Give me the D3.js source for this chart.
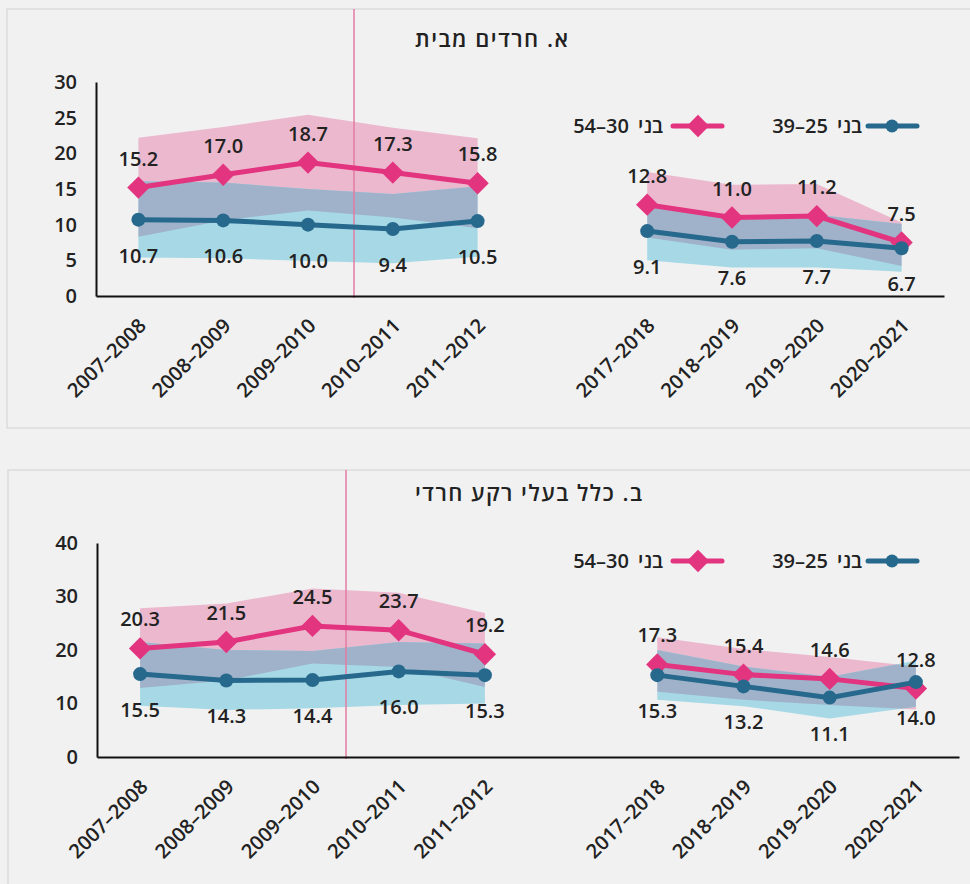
<!DOCTYPE html>
<html>
<head>
<meta charset="utf-8">
<script src="https://cdnjs.cloudflare.com/ajax/libs/d3/7.8.5/d3.min.js"></script>
<style>
  body { margin: 0; background: #f1f1f1; }
  svg { display: block; }
</style>
</head>
<body>
<svg width="970" height="884"></svg>
<script>
// categories (empty slot = gap between the two periods)
var categories = ["2007–2008", "2008–2009", "2009–2010", "2010–2011", "2011–2012", "",
  "2017–2018", "2018–2019", "2019–2020", "2020–2021"];

// panel A: haredim from home
var haredimOlder = [15.2, 17.0, 18.7, 17.3, 15.8, null, 12.8, 11.0, 11.2, 7.5];
var haredimOlderLow = [8.3, 10.6, 12.0, 11.0, 9.5, null, 8.2, 6.5, 6.7, 4.2];
var haredimOlderHigh = [22.2, 23.7, 25.4, 23.6, 22.1, null, 17.4, 15.6, 15.7, 10.3];
var haredimYoung = [10.7, 10.6, 10.0, 9.4, 10.5, null, 9.1, 7.6, 7.7, 6.7];
var haredimYoungLow = [5.4, 5.3, 4.9, 4.6, 5.5, null, 5.0, 4.0, 4.0, 3.4];
var haredimYoungHigh = [16.1, 15.9, 15.0, 14.3, 15.4, null, 12.4, 11.2, 11.4, 10.1];

// panel B: all with haredi background
var allOlder = [20.3, 21.5, 24.5, 23.7, 19.2, null, 17.3, 15.4, 14.6, 12.8];
var allOlderLow = [12.9, 14.3, 17.5, 16.8, 13.1, null, 12.2, 10.7, 9.7, 8.9];
var allOlderHigh = [27.8, 28.7, 31.5, 30.7, 26.9, null, 22.4, 20.2, 18.7, 16.9];
var allYoung = [15.5, 14.3, 14.4, 16.0, 15.3, null, 15.3, 13.2, 11.1, 14.0];
var allYoungLow = [9.6, 8.8, 9.1, 9.7, 10.0, null, 10.7, 9.5, 7.2, 9.4];
var allYoungHigh = [21.5, 20.0, 19.8, 21.5, 21.2, null, 20.0, 16.9, 15.0, 18.0];

var seriesNames = ["בני 25–39", "בני 30–54"];
var titles = ["א. חרדים מבית", "ב. כלל בעלי רקע חרדי"];
var yTicksA = [0, 5, 10, 15, 20, 25, 30];
var yTicksB = [0, 10, 20, 30, 40];

var PINK = "#e2347f", BLUE = "#27698d";
var PINK_BAND = "#ecb8ce", BLUE_BAND = "#a6d9e5", MIX_BAND = "#a0b2ca";
var TEXT = "#222";
var NUM_FONT = "'Open Sans', 'Noto Sans', sans-serif";
var HEB_FONT = "'Open Sans', 'Liberation Sans', 'DejaVu Sans', sans-serif";

var svg = d3.select("svg");

var panels = [
  { id: "a", title: titles[0], ticks: yTicksA, x0: 96, x1: 944, yTop: 82, yBottom: 296,
    frameX: 7, frameY: 9, frameH: 419, titleY: 47, legendY: 126, divShift: 3.6,
    older: haredimOlder, olderLow: haredimOlderLow, olderHigh: haredimOlderHigh,
    young: haredimYoung, youngLow: haredimYoungLow, youngHigh: haredimYoungHigh },
  { id: "b", title: titles[1], ticks: yTicksB, x0: 97, x1: 959, yTop: 543, yBottom: 757,
    frameX: 8, frameY: 470, frameH: 500, titleY: 501, legendY: 561, divShift: -9.6,
    older: allOlder, olderLow: allOlderLow, olderHigh: allOlderHigh,
    young: allYoung, youngLow: allYoungLow, youngHigh: allYoungHigh }
];

panels.forEach(drawPanel);

function drawPanel(p) {
  var g = svg.append("g");

  g.append("rect")
    .attr("x", p.frameX).attr("y", p.frameY)
    .attr("width", 1000).attr("height", p.frameH)
    .attr("fill", "none").attr("stroke", "#dcdcdc").attr("stroke-width", 1.5);

  var x = d3.scaleBand().domain(categories).range([p.x0, p.x1]);
  var y = d3.scaleLinear().domain([0, d3.max(p.ticks)]).range([p.yBottom, p.yTop]);
  var cx = function (d) { return x(categories[d.i]) + x.bandwidth() / 2; };

  var rows = categories.map(function (c, i) {
    return { i: i, o: p.older[i], oLo: p.olderLow[i], oHi: p.olderHigh[i],
      yv: p.young[i], yLo: p.youngLow[i], yHi: p.youngHigh[i] };
  });
  var pts = rows.filter(function (d) { return d.o != null; });

  var pinkArea = d3.area().defined(function (d) { return d.o != null; })
    .x(cx).y0(function (d) { return y(d.oLo); }).y1(function (d) { return y(d.oHi); });
  var blueArea = d3.area().defined(function (d) { return d.yv != null; })
    .x(cx).y0(function (d) { return y(d.yLo); }).y1(function (d) { return y(d.yHi); });

  g.append("clipPath").attr("id", "clip-" + p.id)
    .append("path").attr("d", pinkArea(rows));

  g.append("path").attr("d", pinkArea(rows)).attr("fill", PINK_BAND);
  g.append("path").attr("d", blueArea(rows)).attr("fill", BLUE_BAND);
  g.append("path").attr("d", blueArea(rows)).attr("fill", MIX_BAND)
    .attr("clip-path", "url(#clip-" + p.id + ")");

  // divider
  var dx = x(categories[3]) + p.divShift;
  g.append("line")
    .attr("x1", dx).attr("x2", dx).attr("y1", p.frameY).attr("y2", p.yBottom + 2)
    .attr("stroke", "#e47ba3").attr("stroke-width", 1.5);

  // axes
  var yAxis = g.append("g").attr("transform", "translate(" + p.x0 + ",0)")
    .call(d3.axisLeft(y).tickValues(p.ticks).tickSize(0).tickPadding(19));
  var xAxis = g.append("g").attr("transform", "translate(0," + p.yBottom + ")")
    .call(d3.axisBottom(x).tickSize(0));
  [yAxis, xAxis].forEach(function (a) {
    a.select(".domain").attr("stroke", "#111").attr("stroke-width", 2);
    a.selectAll("text").attr("fill", TEXT)
      .style("font-family", NUM_FONT).style("font-size", "20px").style("font-weight", 600);
  });
  xAxis.selectAll("text")
    .attr("x", 0).attr("y", 0).attr("dy", 0)
    .attr("transform", "translate(9,31) rotate(-45)")
    .style("text-anchor", "end");

  // lines
  var line = function (key) {
    return d3.line().defined(function (d) { return d[key] != null; })
      .x(cx).y(function (d) { return y(d[key]); });
  };
  g.append("path").attr("d", line("o")(rows))
    .attr("fill", "none").attr("stroke", PINK).attr("stroke-width", 5);
  g.selectAll(".dia").data(pts).enter().append("path")
    .attr("d", d3.symbol(d3.symbolSquare, 250)())
    .attr("transform", function (d) { return "translate(" + cx(d) + "," + y(d.o) + ") rotate(45)"; })
    .attr("fill", PINK);

  g.append("path").attr("d", line("yv")(rows))
    .attr("fill", "none").attr("stroke", BLUE).attr("stroke-width", 5);
  g.selectAll(".dot").data(pts).enter().append("circle")
    .attr("cx", cx).attr("cy", function (d) { return y(d.yv); })
    .attr("r", 7).attr("fill", BLUE);

  // value labels
  var labels = g.append("g").style("font-family", NUM_FONT).style("font-size", "20px")
    .style("font-weight", 600).attr("fill", TEXT).attr("text-anchor", "middle");
  labels.selectAll(".lo").data(pts).enter().append("text")
    .attr("x", cx).attr("y", function (d) { return y(d.o) - 22; })
    .text(function (d) { return d.o.toFixed(1); });
  labels.selectAll(".ly").data(pts).enter().append("text")
    .attr("x", cx).attr("y", function (d) { return y(d.yv) + 43; })
    .text(function (d) { return d.yv.toFixed(1); });

  // title
  g.append("text")
    .attr("x", 415).attr("y", p.titleY)
    .attr("direction", "rtl").attr("text-anchor", "end")
    .style("font-family", HEB_FONT).style("font-size", "22px").style("font-weight", 600)
    .style("letter-spacing", "1.5px").attr("fill", TEXT)
    .text(p.title);

  // legend
  var leg = g.append("g").style("font-family", HEB_FONT).style("font-size", "20px")
    .style("font-weight", 600).attr("fill", TEXT);
  var items = [
    { name: seriesNames[0], color: BLUE, lx: 868, tx: 862, shape: "circle" },
    { name: seriesNames[1], color: PINK, lx: 673, tx: 663, shape: "diamond" }
  ];
  items.forEach(function (it) {
    leg.append("line").attr("x1", it.lx).attr("x2", it.lx + 49)
      .attr("y1", p.legendY).attr("y2", p.legendY)
      .attr("stroke", it.color).attr("stroke-width", 5).attr("stroke-linecap", "round");
    if (it.shape === "circle") {
      leg.append("circle").attr("cx", it.lx + 24).attr("cy", p.legendY).attr("r", 6.5).attr("fill", it.color);
    } else {
      leg.append("path").attr("d", d3.symbol(d3.symbolSquare, 250)())
        .attr("transform", "translate(" + (it.lx + 25) + "," + p.legendY + ") rotate(45)")
        .attr("fill", it.color);
    }
    leg.append("text").attr("x", it.tx).attr("y", p.legendY + 7)
      .attr("direction", "rtl").attr("text-anchor", "start")
      .style("word-spacing", "4px")
      .text(it.name);
  });
}
</script>
</body>
</html>
